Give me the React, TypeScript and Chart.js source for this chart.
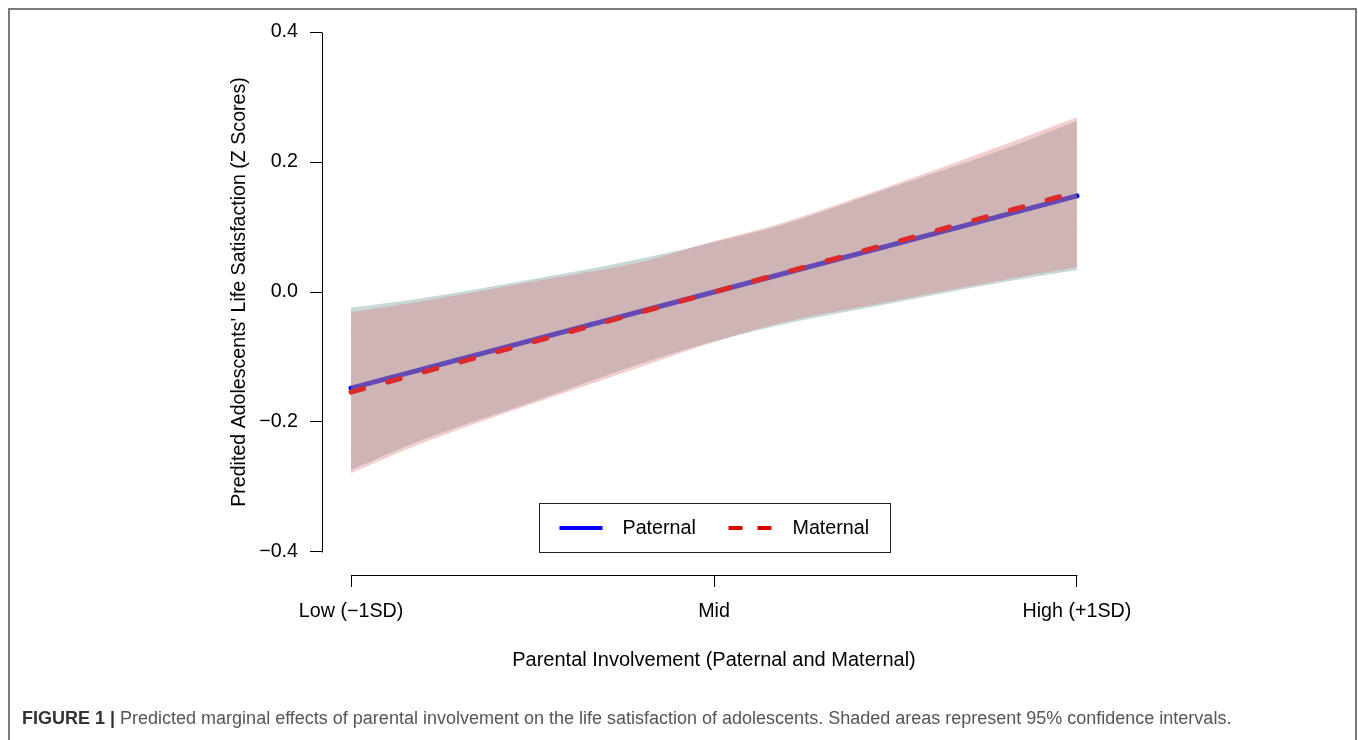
import React, { useEffect, useRef } from "react";
import { Chart, registerables } from "chart.js";

Chart.register(...registerables);

// ---- data ----
const xLevels = [-1, 0, 1];
const xTickLabels = ["Low (−1SD)", "Mid", "High (+1SD)"];
const yTickValues = [-0.4, -0.2, 0, 0.2, 0.4];
const yTickLabels = ["−0.4", "−0.2", "0.0", "0.2", "0.4"];

const paternalFit = [-0.148, 0, 0.148];
const maternalFit = [-0.154, 0, 0.154];

const bandX = [-1, -0.81, -0.5, -0.18, 0, 0.18, 0.5, 0.81, 1];
const paternalUpper = [-0.024, -0.01, 0.0195, 0.054, 0.077, 0.102, 0.163, 0.222, 0.263];
const paternalLower = [-0.274, -0.229, -0.169, -0.106, -0.076, -0.051, -0.016, 0.0165, 0.034];
const maternalUpper = [-0.031, -0.015, 0.016, 0.049, 0.078, 0.105, 0.166, 0.229, 0.269];
const maternalLower = [-0.279, -0.234, -0.172, -0.111, -0.077, -0.048, -0.013, 0.02, 0.038];

const legendLabels = ["Paternal", "Maternal"];
const xTitle = "Parental Involvement (Paternal and Maternal)";
const yTitle = "Predited Adolescents' Life Satisfaction (Z Scores)";
const captionBold = "FIGURE 1 |";
const captionText =
  " Predicted marginal effects of parental involvement on the life satisfaction of adolescents. Shaded areas represent 95% confidence intervals.";

const FONT = '"Liberation Sans", Arial, Helvetica, sans-serif';
const PAT_BAND = "rgba(98,141,141,0.35)";
const MAT_BAND = "rgba(220,120,120,0.36)";
const BLUE = "#0000ff";
const RED = "#dc2a2a";

const W = 1349;
const H = 680;

export default function App() {
  const ref = useRef<HTMLCanvasElement>(null);

  useEffect(() => {
    const canvas = ref.current!;
    const pts = (xs: number[], ys: number[]) => xs.map((x, i) => ({ x, y: ys[i] }));
    const tickFont = { family: FONT, size: 19.7 };
    const xTitleFont = { family: FONT, size: 20 };
    const yTitleFont = { family: FONT, size: 19.6 };

    const axisLines = {
      id: "axisLines",
      afterDraw(chart: any) {
        const { ctx, chartArea } = chart;
        const x = chart.scales.x;
        const y = chart.scales.y;
        ctx.save();
        ctx.strokeStyle = "#000";
        ctx.lineWidth = 1;
        const lx = Math.round(chartArea.left) + 0.5;
        const by = Math.round(chartArea.bottom) + 0.5;
        ctx.beginPath();
        ctx.moveTo(lx, Math.round(y.getPixelForValue(yTickValues[yTickValues.length - 1])) + 0.5);
        ctx.lineTo(lx, Math.round(y.getPixelForValue(yTickValues[0])) + 0.5);
        ctx.moveTo(Math.round(x.getPixelForValue(xLevels[0])) + 0.5, by);
        ctx.lineTo(Math.round(x.getPixelForValue(xLevels[xLevels.length - 1])) + 0.5, by);
        ctx.stroke();
        ctx.restore();
      },
    };

    const legendBox = {
      id: "legendBox",
      afterDraw(chart: any) {
        const { ctx, chartArea } = chart;
        const y = chart.scales.y;
        const w = 351;
        const h = 49;
        const cx = (chartArea.left + chartArea.right) / 2;
        const left = Math.round(cx - w / 2) + 0.5;
        const top = Math.round(y.getPixelForValue(yTickValues[0]) - h) + 0.5;
        const my = top + h / 2;
        ctx.save();
        ctx.strokeStyle = "#222";
        ctx.lineWidth = 1;
        ctx.strokeRect(left, top, w, h);
        ctx.lineCap = "butt";
        ctx.lineWidth = 4;
        ctx.strokeStyle = BLUE;
        ctx.beginPath();
        ctx.moveTo(left + 20, my);
        ctx.lineTo(left + 63, my);
        ctx.stroke();
        ctx.strokeStyle = "#e00000";
        ctx.setLineDash([14, 15]);
        ctx.beginPath();
        ctx.moveTo(left + 189, my);
        ctx.lineTo(left + 234, my);
        ctx.stroke();
        ctx.setLineDash([]);
        ctx.fillStyle = "#000";
        ctx.font = `19.7px ${FONT}`;
        ctx.textBaseline = "middle";
        ctx.textAlign = "left";
        ctx.fillText(legendLabels[0], left + 83, my + 1);
        ctx.fillText(legendLabels[1], left + 253, my + 1);
        ctx.restore();
      },
    };

    const bandBase = { borderWidth: 0, pointRadius: 0, cubicInterpolationMode: "monotone" as const };

    // drawing order (highest order drawn first): paternal line, paternal band, maternal band, maternal line
    const chart = new Chart(canvas, {
      type: "line",
      data: {
        datasets: [
          { label: "Paternal CI upper", data: pts(bandX, paternalUpper), fill: 1, backgroundColor: PAT_BAND, order: 5, ...bandBase },
          { label: "Paternal CI lower", data: pts(bandX, paternalLower), fill: false, order: 4, ...bandBase },
          {
            label: legendLabels[0],
            data: pts(xLevels, paternalFit),
            borderColor: BLUE,
            borderWidth: 5,
            borderCapStyle: "round",
            pointRadius: 0,
            fill: false,
            order: 6,
          },
          { label: "Maternal CI upper", data: pts(bandX, maternalUpper), fill: 4, backgroundColor: MAT_BAND, order: 3, ...bandBase },
          { label: "Maternal CI lower", data: pts(bandX, maternalLower), fill: false, order: 2, ...bandBase },
          {
            label: legendLabels[1],
            data: pts(xLevels, maternalFit),
            borderColor: RED,
            borderWidth: 5,
            borderCapStyle: "round",
            borderDash: [13, 25],
            pointRadius: 0,
            fill: false,
            order: 1,
          },
        ],
      },
      options: {
        animation: false,
        responsive: false,
        layout: { padding: { left: 0, top: 1, right: 251, bottom: 0 } },
        plugins: {
          legend: { display: false },
          tooltip: { enabled: false },
        },
        scales: {
          x: {
            type: "linear",
            min: -1.08,
            max: 1.08,
            afterFit: (s: any) => {
              s.height = 113;
              s.paddingLeft = 0;
              s.paddingRight = 0;
            },
            afterBuildTicks: (s: any) => {
              s.ticks = xLevels.map((v) => ({ value: v }));
            },
            ticks: {
              callback: (_v: any, i: number) => xTickLabels[i],
              font: tickFont,
              color: "#000",
              padding: 13,
              maxRotation: 0,
              autoSkip: false,
            },
            grid: { drawOnChartArea: false, drawTicks: true, tickLength: 12, color: "#000", lineWidth: 1 },
            border: { display: false },
            title: { display: true, text: xTitle, font: xTitleFont, color: "#000", padding: { top: 0, bottom: 16 } },
          },
          y: {
            type: "linear",
            min: -0.4354,
            max: 0.4354,
            afterFit: (s: any) => {
              s.width = 314;
              s.paddingTop = 0;
              s.paddingBottom = 0;
            },
            afterBuildTicks: (s: any) => {
              s.ticks = yTickValues.map((v) => ({ value: v }));
            },
            ticks: {
              callback: (_v: any, i: number) => yTickLabels[i],
              font: tickFont,
              color: "#000",
              padding: 12,
              autoSkip: false,
            },
            grid: { drawOnChartArea: false, drawTicks: true, tickLength: 12, color: "#000", lineWidth: 1 },
            border: { display: false },
            title: { display: true, text: yTitle, font: yTitleFont, color: "#000", padding: { top: 220, bottom: 0 } },
          },
        },
      },
      plugins: [axisLines, legendBox],
    } as any);

    return () => chart.destroy();
  }, []);

  return (
    <div style={{ position: "relative", width: W, height: 724 }}>
      <div
        style={{
          position: "fixed",
          left: 8,
          top: 8,
          width: W,
          height: 760,
          boxSizing: "border-box",
          borderTop: "2px solid #7a7a7a",
          borderLeft: "2px solid #7a7a7a",
          borderRight: "2px solid #7a7a7a",
          pointerEvents: "none",
        }}
      />
      <canvas
        ref={ref}
        width={W}
        height={H}
        style={{ position: "absolute", left: 0, top: 0, display: "block" }}
      />
      <div
        style={{
          position: "absolute",
          left: 14,
          top: 700,
          fontFamily: FONT,
          fontSize: 18,
          lineHeight: "20px",
          color: "#555",
          whiteSpace: "nowrap",
        }}
      >
        <b style={{ color: "#333" }}>{captionBold}</b>
        {captionText}
      </div>
    </div>
  );
}
